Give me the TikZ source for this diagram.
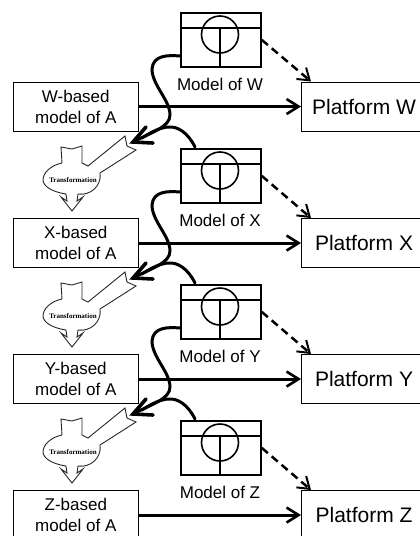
\documentclass[tikz,border=0pt]{standalone}
\usepackage{fontspec}
\setmainfont{Liberation Sans}
\newfontfamily\serifb{Liberation Serif}
\usetikzlibrary{arrows.meta}
\tikzset{
  x=1pt,y=-1pt,
  box/.style={draw=black,line width=1.1pt,fill=white,anchor=north west,inner sep=0pt},
  leftbox/.style={box,minimum width=125.5pt,minimum height=49pt,align=center,font=\fontsize{17}{21}\selectfont},
  platbox/.style={box,minimum width=125pt,minimum height=49pt,font=\fontsize{21}{24}\selectfont},
  modelbox/.style={box,line width=1.8pt,minimum width=80pt,minimum height=54pt},
  modellabel/.style={font=\fontsize{17}{20}\selectfont,inner sep=0pt},
  inner/.style={draw=black,line width=1.6pt},
  thickarrow/.style={draw=black,line width=3pt,-{Straight Barb[length=12pt,width=15pt,line width=2.6pt]}},
  dasharrow/.style={draw=black,line width=2.5pt,dash pattern=on 8pt off 5pt,-{Straight Barb[length=11pt,width=15pt,line width=2pt]}},
  curve/.style={draw=black,line width=3pt,line cap=round},
  curvetip/.style={draw=black,line width=3.6pt,line join=miter,line cap=round},
  transform/.style={draw=black!85,line width=0.9pt,fill=white,line join=miter},
  translabel/.style={font=\serifb\bfseries\fontsize{7}{8}\selectfont,inner sep=0pt},
}
\newcommand{\ModelUnit}[3]{% id, top y, label
  \node[modelbox] (m#1) at (180,#2) {};
  \draw[inner] (180,#2+16) -- (260,#2+16);
  \draw[inner] (220,#2+16) -- (220,#2+54);
  \draw[inner] (220,#2+22.5) circle[radius=18.5];
  \node[modellabel] (ml#1) at (220,#2+72) {Model of #3};
}
\newcommand{\Transform}[2]{% id, y offset
  \begin{scope}[yshift=-#2pt]
  \draw[transform] (61,147) -- (72,149) -- (82,146) -- (82,163) -- (88,166) -- (125,136) -- (127,146) -- (136,150)
    -- (100,173) .. controls (102,186) and (90,196) .. (78,194) -- (77,201) -- (83,197) -- (72,211) -- (61,197) -- (67,201) -- (66,194)
    .. controls (52,192) and (43,186) .. (43,180) .. controls (43,172) and (52,165) .. (62,163) -- cycle;
  \node[translabel] (t#1) at (73,180.5) {Transformation};
  \end{scope}
}
\begin{document}
\begin{tikzpicture}
\useasboundingbox (0,0) rectangle (420,536);
\fill[white] (0,0) rectangle (420,536);
% transformations
\Transform{a}{0}
\Transform{b}{136}
\Transform{c}{272}
% left boxes
\node[leftbox] (lw) at (12.5,81.5) {W-based\\model of A};
\node[leftbox] (lx) at (12.5,218) {X-based\\model of A};
\node[leftbox] (ly) at (12.5,354) {Y-based\\model of A};
\node[leftbox] (lz) at (12.5,490) {Z-based\\model of A};
% platforms
\node[platbox] (pw) at (301,81.5) {Platform W};
\node[platbox] (px) at (301,218) {Platform X};
\node[platbox] (py) at (301,354) {Platform Y};
\node[platbox] (pz) at (301,490) {Platform Z};
% models
\ModelUnit{w}{12}{W}
\ModelUnit{x}{148}{X}
\ModelUnit{y}{284}{Y}
\ModelUnit{z}{420}{Z}
% straight arrows
\foreach \s in {w,x,y,z}{
  \draw[thickarrow] (l\s.east) -- (p\s.west);
  \draw[dasharrow] (m\s.east) -- ([xshift=10pt]p\s.north west);
}
% curves
\foreach \a/\o in {w/0,x/136,y/272}{
  \begin{scope}[yshift=-\o pt]
  \coordinate (tip\a) at (133,142);
  \draw[curve] (180,56) .. controls (168,55) and (153,55) .. (152,69)
     .. controls (152,85) and (170,100) .. (170,115)
     .. controls (170,127) and (152,132) .. (tip\a);
  \draw[curve] (195,147) .. controls (188,133) and (178,126) .. (168,127)
     .. controls (158,128) and (150,133) .. (142,138);
  \draw[curvetip] (146,127) -- (tip\a) -- (153,143);
  \end{scope}
}
\end{tikzpicture}
\end{document}
